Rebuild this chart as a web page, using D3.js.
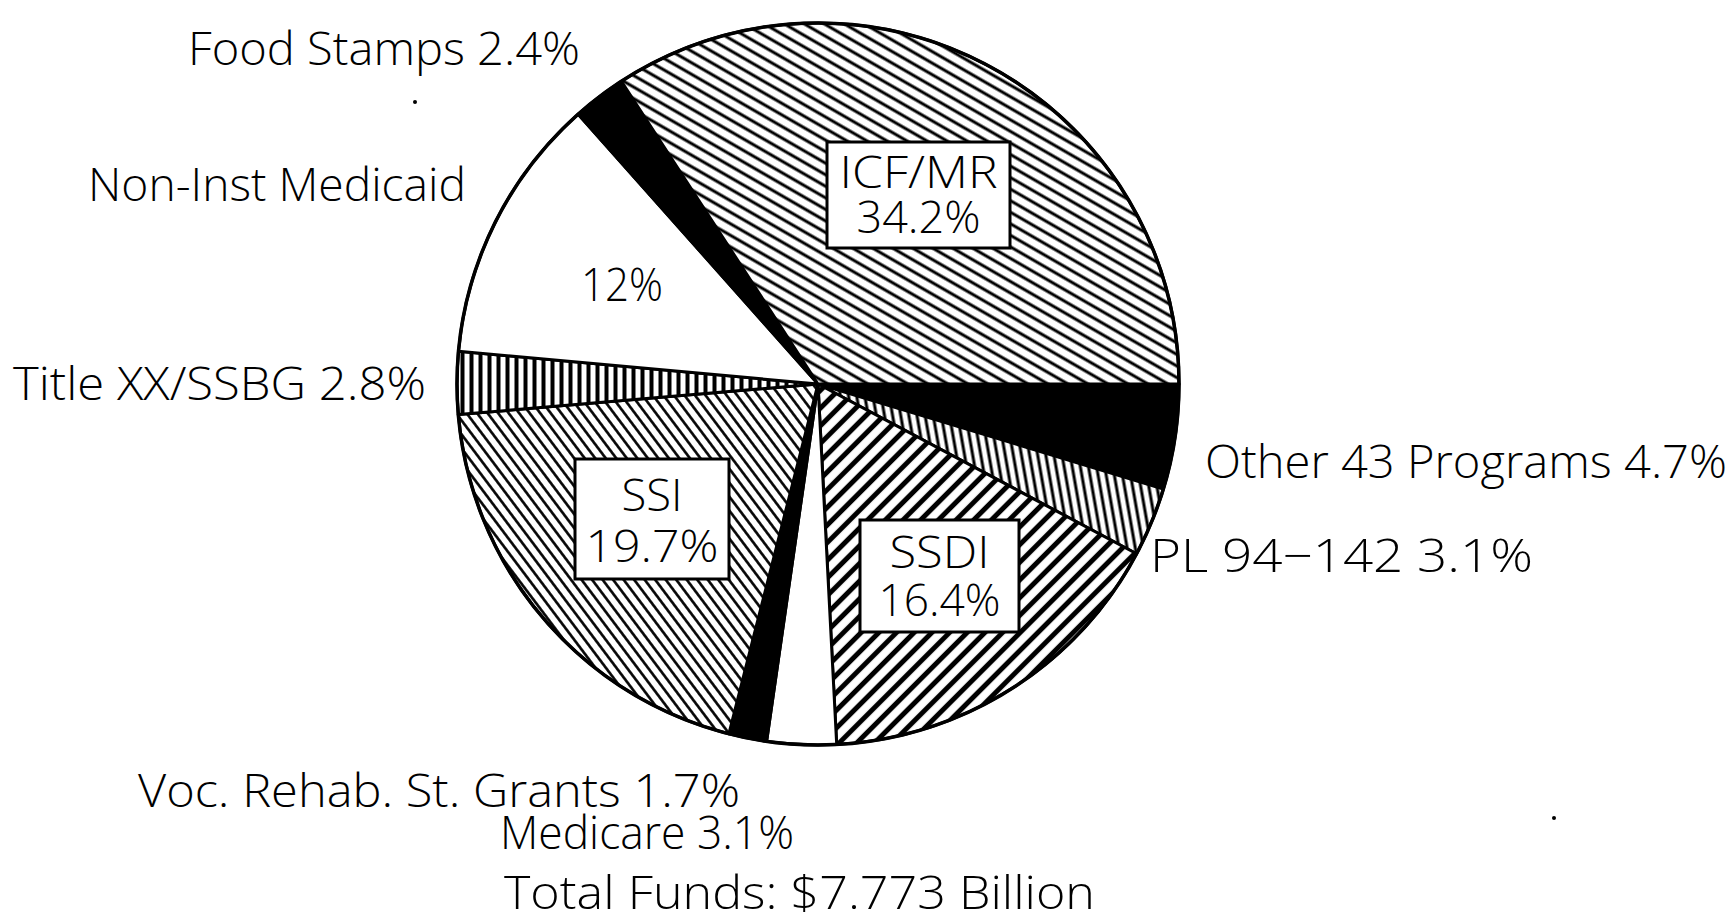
<!DOCTYPE html>
<html>
<head>
<meta charset="utf-8">
<script src="https://cdn.jsdelivr.net/npm/d3@7"></script>
<style>
  html, body { margin: 0; padding: 0; background: #fff; }
  svg text { font-family: "Open Sans", "DejaVu Sans", sans-serif; font-weight: 300; fill: #000; }
</style>
</head>
<body>
<svg id="chart" width="1734" height="923"></svg>
<script>
// ---- data ----
const categories = ["Other 43 Programs", "PL 94-142", "SSDI", "Medicare", "Voc. Rehab. St. Grants",
                    "SSI", "Title XX/SSBG", "Non-Inst Medicaid", "Food Stamps", "ICF/MR"];
const values = [4.7, 3.1, 16.4, 3.1, 1.7, 19.7, 2.8, 12, 2.4, 34.2];
const valueLabels = ["4.7%", "3.1%", "16.4%", "3.1%", "1.7%", "19.7%", "2.8%", "12%", "2.4%", "34.2%"];
const totalLabel = "Total Funds: $7.773 Billion";

// ---- style / layout (not data) ----
const W = 1734, H = 923;
const cx = 818, cy = 384, R = 361;
const fillKey = {
  "Other 43 Programs": "black", "PL 94-142": "url(#pl)", "SSDI": "url(#ssdi)", "Medicare": "white",
  "Voc. Rehab. St. Grants": "black", "SSI": "url(#ssi)", "Title XX/SSBG": "url(#title)",
  "Non-Inst Medicaid": "white", "Food Stamps": "black", "ICF/MR": "url(#icf)"
};
const outside = {
  "Food Stamps": {x: 188, y: 65, w: 392, text: d => d + " 2.4%"},
  "Non-Inst Medicaid": {x: 88, y: 201, w: 378, text: d => d},
  "Title XX/SSBG": {x: 13, y: 400, w: 413, text: d => d + " 2.8%"},
  "Other 43 Programs": {x: 1205, y: 478, w: 522, text: d => d + " 4.7%"},
  "PL 94-142": {x: 1150, y: 572, w: 383, text: d => "PL 94\u2212142 3.1%"},
  "Voc. Rehab. St. Grants": {x: 138, y: 807, w: 602, text: d => d + " 1.7%"},
  "Medicare": {x: 500, y: 849, w: 294, text: d => d + " 3.1%"}
};
const boxed = {
  "ICF/MR": {x: 827, y: 142, w: 183, h: 106, w1: 158, w2: 124},
  "SSI": {x: 575, y: 459, w: 154, h: 120, w1: 61, w2: 133},
  "SSDI": {x: 860, y: 520, w: 159, h: 112, w1: 100, w2: 122}
};
const FS = 46;

const svg = d3.select("#chart");
svg.append("rect").attr("width", W).attr("height", H).attr("fill", "#fff");

const defs = svg.append("defs");
function hatch(id, spacing, width, angle) {
  const p = defs.append("pattern").attr("id", id)
    .attr("patternUnits", "userSpaceOnUse")
    .attr("width", spacing).attr("height", spacing)
    .attr("patternTransform", `rotate(${angle})`);
  p.append("rect").attr("width", spacing).attr("height", spacing).attr("fill", "#fff");
  p.append("line").attr("x1", -1).attr("x2", spacing + 1)
    .attr("y1", spacing / 2).attr("y2", spacing / 2)
    .attr("stroke", "#000").attr("stroke-width", width);
}
hatch("icf", 10, 3, 30);
hatch("ssi", 8.4, 2.6, 53);
hatch("ssdi", 12.5, 5, -45);
hatch("title", 9, 4, 90);
hatch("pl", 8, 3, 80);

const pie = d3.pie().sort(null).value(d => d.v)
  .startAngle(Math.PI / 2).endAngle(Math.PI / 2 + 2 * Math.PI);
const arc = d3.arc().innerRadius(0).outerRadius(R);
const data = categories.map((c, i) => ({c, v: values[i], lab: valueLabels[i]}));

const g = svg.append("g").attr("transform", `translate(${cx},${cy})`);
g.selectAll("path.slice").data(pie(data)).enter().append("path")
  .attr("class", "slice")
  .attr("d", arc)
  .attr("fill", d => fillKey[d.data.c])
  .attr("stroke", "#000").attr("stroke-width", 3).attr("stroke-linejoin", "round");
g.append("circle").attr("r", R).attr("fill", "none").attr("stroke", "#000").attr("stroke-width", 3.5);

Object.keys(outside).forEach(k => {
  const o = outside[k];
  svg.append("text").attr("x", o.x).attr("y", o.y)
    .attr("font-size", FS)
    .attr("textLength", o.w).attr("lengthAdjust", "spacingAndGlyphs")
    .text(o.text(k));
});

const ni = data.findIndex(d => d.c === "Non-Inst Medicaid");
svg.append("text").attr("x", 622).attr("y", 301).attr("text-anchor", "middle")
  .attr("font-size", FS).attr("textLength", 82).attr("lengthAdjust", "spacingAndGlyphs")
  .text(data[ni].lab);

Object.keys(boxed).forEach(k => {
  const b = boxed[k];
  const d = data.find(e => e.c === k);
  svg.append("rect").attr("x", b.x).attr("y", b.y).attr("width", b.w).attr("height", b.h)
    .attr("fill", "#fff").attr("stroke", "#000").attr("stroke-width", 3);
  svg.append("text").attr("x", b.x + b.w / 2).attr("y", b.y + b.h * 0.43)
    .attr("text-anchor", "middle").attr("font-size", FS - 2)
    .attr("textLength", b.w1).attr("lengthAdjust", "spacingAndGlyphs").text(k);
  svg.append("text").attr("x", b.x + b.w / 2).attr("y", b.y + b.h * 0.86)
    .attr("text-anchor", "middle").attr("font-size", FS - 2)
    .attr("textLength", b.w2).attr("lengthAdjust", "spacingAndGlyphs").text(d.lab);
});

svg.append("text").attr("x", 504).attr("y", 909).attr("font-size", FS)
  .attr("textLength", 591).attr("lengthAdjust", "spacingAndGlyphs").text(totalLabel);

svg.append("circle").attr("cx", 415).attr("cy", 102).attr("r", 2).attr("fill", "#000");
svg.append("circle").attr("cx", 1554).attr("cy", 818).attr("r", 2).attr("fill", "#000");
</script>
</body>
</html>
